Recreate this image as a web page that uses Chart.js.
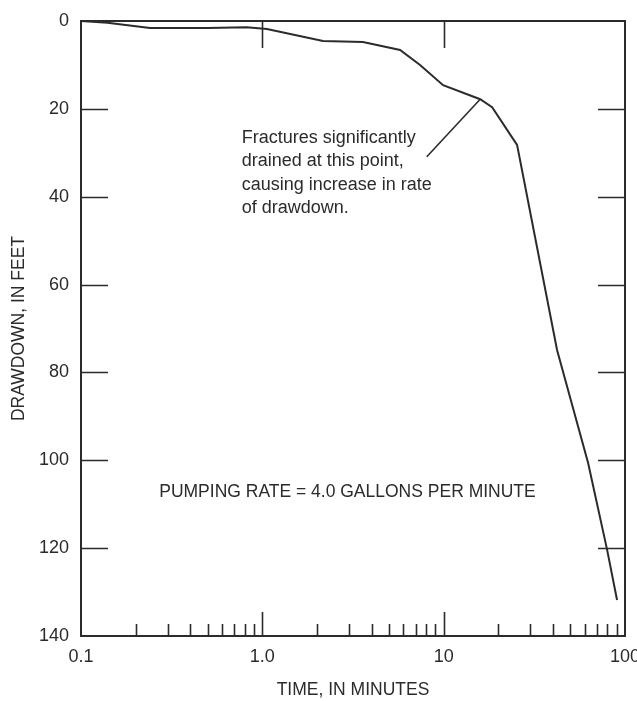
<!DOCTYPE html>
<html>
<head>
  <title>Drawdown vs time</title>
  <script src="https://cdn.jsdelivr.net/npm/chart.js"></script>
  <style>
    body { margin: 0; background: #fff; }
    #wrap { width: 637px; height: 701px; }
  </style>
</head>
<body>
  <div id="wrap"><canvas id="myChart" width="637" height="701"></canvas></div>

  <script type="text/javascript">
    // time since pumping began, minutes
    var timeMin = [0.1, 0.14, 0.24, 0.5, 0.82, 1.06, 2.16, 3.59, 5.75, 7.41, 9.93, 15.9, 18.5, 25.4, 42.2, 62.6, 79.7, 90.4];
    // drawdown, feet
    var drawdownFt = [0, 0.4, 1.6, 1.6, 1.4, 1.8, 4.55, 4.8, 6.6, 10.0, 14.6, 17.8, 19.6, 28.2, 74.9, 100.6, 120.4, 131.8];

    var xTickValues = [0.1, 1, 10, 100];
    var xTickLabels = ['0.1', '1.0', '10', '100'];
    var yTickValues = [0, 20, 40, 60, 80, 100, 120, 140];

    var noteLines = ['Fractures significantly', 'drained at this point,', 'causing increase in rate', 'of drawdown.'];
    var noteAnchor = { x: 0.77, y: 27.8 };          // text start
    var leader = [{ x: 8.07, y: 30.9 }, { x: 15.9, y: 17.8 }];
    var rateText = 'PUMPING RATE = 4.0 GALLONS PER MINUTE';
    var rateAnchor = { x: 0.27, y: 107.2 };

    var FONT = '"Liberation Sans", Arial, Helvetica, sans-serif';
    var INK = '#2b2b2b';

    function noPad(scale) {
      scale.paddingLeft = 0; scale.paddingRight = 0;
      scale.paddingTop = 0; scale.paddingBottom = 0;
    }

    // inward tick marks, frame and annotations
    var decor = {
      id: 'decor',
      afterDraw: function(chart) {
        var ctx = chart.ctx;
        var a = chart.chartArea;
        var xs = chart.scales.x, ys = chart.scales.y;
        ctx.save();
        ctx.strokeStyle = INK;
        ctx.lineWidth = 1.6;
        ctx.beginPath();
        // left / right ticks
        yTickValues.forEach(function(v) {
          if (v === 0 || v === 140) return;
          var py = Math.round(ys.getPixelForValue(v)) + 0.5;
          ctx.moveTo(a.left, py); ctx.lineTo(a.left + 27, py);
          ctx.moveTo(a.right - 27, py); ctx.lineTo(a.right, py);
        });
        // bottom minor + major, top major
        [0.1, 1, 10].forEach(function(dec) {
          for (var k = 2; k <= 10; k++) {
            var v = dec * k;
            var px = Math.round(xs.getPixelForValue(v)) + 0.5;
            if (k === 10 && v < 100) {
              ctx.moveTo(px, a.bottom); ctx.lineTo(px, a.bottom - 24);
              ctx.moveTo(px, a.top); ctx.lineTo(px, a.top + 27);
            } else if (k < 10) {
              ctx.moveTo(px, a.bottom); ctx.lineTo(px, a.bottom - 12);
            }
          }
        });
        ctx.stroke();

        // frame
        ctx.lineWidth = 2;
        ctx.strokeRect(a.left, a.top, a.right - a.left, a.bottom - a.top);

        // leader line
        ctx.lineWidth = 1.6;
        ctx.beginPath();
        ctx.moveTo(xs.getPixelForValue(leader[0].x), ys.getPixelForValue(leader[0].y));
        ctx.lineTo(xs.getPixelForValue(leader[1].x), ys.getPixelForValue(leader[1].y));
        ctx.stroke();

        // notes
        ctx.fillStyle = INK;
        ctx.font = '18px ' + FONT;
        ctx.textAlign = 'left';
        ctx.textBaseline = 'alphabetic';
        var nx = xs.getPixelForValue(noteAnchor.x);
        var ny = ys.getPixelForValue(noteAnchor.y);
        noteLines.forEach(function(t, i) {
          ctx.fillText(t, nx, ny + i * 23.3);
        });
        ctx.font = '17.5px ' + FONT;
        ctx.textBaseline = 'middle';
        ctx.fillText(rateText, xs.getPixelForValue(rateAnchor.x), ys.getPixelForValue(rateAnchor.y));
        ctx.restore();
      }
    };

    var ctx = document.getElementById('myChart').getContext('2d');
    new Chart(ctx, {
      type: 'line',
      data: {
        datasets: [{
          label: 'Drawdown',
          data: timeMin.map(function(t, i) { return { x: t, y: drawdownFt[i] }; }),
          borderColor: INK,
          borderWidth: 2,
          pointRadius: 0,
          tension: 0,
          fill: false
        }]
      },
      options: {
        responsive: false,
        animation: false,
        layout: { padding: { top: 21, right: 12, left: 0, bottom: 0 } },
        plugins: { legend: { display: false }, tooltip: { enabled: false } },
        scales: {
          x: {
            type: 'logarithmic',
            min: 0.1,
            max: 100,
            afterBuildTicks: function(scale) {
              scale.ticks = xTickValues.map(function(v) { return { value: v }; });
            },
            afterFit: function(scale) { scale.height = 65; noPad(scale); },
            grid: { display: false, drawTicks: false },
            border: { display: false },
            ticks: {
              autoSkip: false,
              maxRotation: 0,
              padding: 10,
              color: INK,
              font: { family: FONT, size: 18 },
              callback: function(v) {
                var i = xTickValues.indexOf(v);
                return i >= 0 ? xTickLabels[i] : '';
              }
            },
            title: {
              display: true,
              text: 'TIME, IN MINUTES',
              color: INK,
              padding: { top: 0, bottom: 0 },
              font: { family: FONT, size: 17.5 }
            }
          },
          y: {
            reverse: true,
            min: 0,
            max: 140,
            afterBuildTicks: function(scale) {
              scale.ticks = yTickValues.map(function(v) { return { value: v }; });
            },
            afterFit: function(scale) { scale.width = 81; noPad(scale); },
            grid: { display: false, drawTicks: false },
            border: { display: false },
            ticks: {
              padding: 12,
              color: INK,
              font: { family: FONT, size: 18 }
            },
            title: {
              display: true,
              text: 'DRAWDOWN, IN FEET',
              color: INK,
              padding: { top: 8.5, bottom: 0 },
              font: { family: FONT, size: 17.5 }
            }
          }
        }
      },
      plugins: [decor]
    });
  </script>
</body>
</html>
